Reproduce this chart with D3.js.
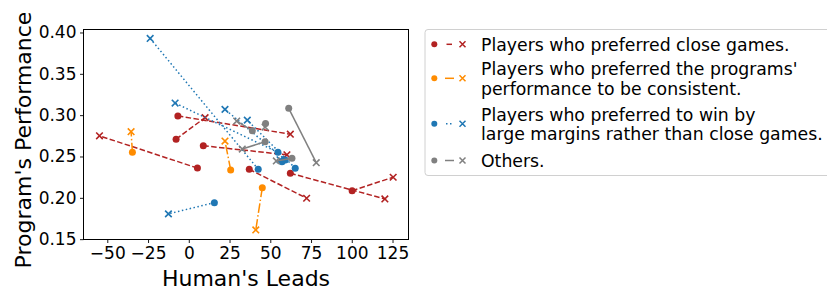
<!DOCTYPE html>
<html>
<head>
<meta charset="utf-8">
<script src="https://cdn.jsdelivr.net/npm/d3@7"></script>
<style>
  body { margin: 0; background: #fff; }
  svg { font-family: "DejaVu Sans", sans-serif; }
</style>
</head>
<body>
<svg id="canvas"></svg>
<script>
// each player: circle = first game, cross = last game (same index)
let closeCircles = [[5.3, 0.236], [-6.7, 0.299], [-7.8, 0.271], [8.9, 0.263], [37.1, 0.2345], [62.3, 0.2297], [100.2, 0.2087]];
let closeCrosses = [[-54.8, 0.275], [62.3, 0.277], [10.0, 0.297], [60.2, 0.252], [72.3, 0.1995], [120.3, 0.1987], [125.4, 0.2249]];

let consistentCircles = [[-34.6, 0.255], [25.7, 0.2337], [45.1, 0.2123]];
let consistentCrosses = [[-35.4, 0.280], [22.2, 0.2687], [41.1, 0.1612]];

let marginCircles = [[42.6, 0.2345], [54.7, 0.255], [59.2, 0.2458], [65.3, 0.2358], [15.7, 0.1942], [57.2, 0.2437]];
let marginCrosses = [[-23.7, 0.3928], [-8.4, 0.3146], [22.2, 0.307], [35.9, 0.294], [-12.5, 0.1806], [56.0, 0.246]];

let otherCircles = [[61.3, 0.3082], [47.1, 0.2899], [39.0, 0.2812], [46.8, 0.2679], [63.3, 0.2478]];
let otherCrosses = [[78.2, 0.2425], [46.8, 0.2856], [29.4, 0.2929], [32.8, 0.259], [53.7, 0.2446]];

let xTicks = [-50, -25, 0, 25, 50, 75, 100, 125];
let yTicks = [0.15, 0.20, 0.25, 0.30, 0.35, 0.40];

let groups = [
  {label: ['Players who preferred close games.'], color: '#b22222', dash: '5.5,2.4', legendLine: [446.5, 452], circles: closeCircles, crosses: closeCrosses},
  {label: ["Players who preferred the programs'", 'performance to be consistent.'], color: '#ff8c00', dash: '9.6,2.4,1.5,2.4', legendLine: [445, 454], circles: consistentCircles, crosses: consistentCrosses},
  {label: ['Players who preferred to win by', 'large margins rather than close games.'], color: '#1f77b4', dash: '1.5,2.5', legendLine: [446, 454], circles: marginCircles, crosses: marginCrosses},
  {label: ['Others.'], color: '#808080', dash: null, legendLine: [445, 454], circles: otherCircles, crosses: otherCrosses}
];

let width = 827;
let height = 293;

let svg = d3.select('#canvas').attr('width', width).attr('height', height);

let xScale = d3.scaleLinear().domain([-64.6, 134.8]).range([83.5, 408.5]);
let yScale = d3.scaleLinear().domain([0.1496, 0.4036]).range([239.5, 29.5]);

let crossPath = (s) => 'M' + (-s) + ',' + (-s) + 'L' + s + ',' + s + 'M' + (-s) + ',' + s + 'L' + s + ',' + (-s);

let drawGroups = () => {
  groups.forEach((g) => {
    let layer = svg.append('g');
    layer.selectAll('line')
      .data(g.circles)
      .enter()
      .append('line')
      .attr('x1', (d) => xScale(d[0]))
      .attr('y1', (d) => yScale(d[1]))
      .attr('x2', (d, i) => xScale(g.crosses[i][0]))
      .attr('y2', (d, i) => yScale(g.crosses[i][1]))
      .attr('stroke', g.color)
      .attr('stroke-width', 1.5)
      .attr('stroke-dasharray', g.dash);
    layer.selectAll('circle')
      .data(g.circles)
      .enter()
      .append('circle')
      .attr('cx', (d) => xScale(d[0]))
      .attr('cy', (d) => yScale(d[1]))
      .attr('r', 3.5)
      .attr('fill', g.color);
    layer.selectAll('path')
      .data(g.crosses)
      .enter()
      .append('path')
      .attr('d', crossPath(3.3))
      .attr('transform', (d) => 'translate(' + xScale(d[0]) + ',' + yScale(d[1]) + ')')
      .attr('stroke', g.color)
      .attr('stroke-width', 1.6)
      .attr('fill', 'none');
  });
}

let drawAxis = () => {
  let xAxis = d3.axisBottom(xScale).tickValues(xTicks).tickSize(3.5).tickPadding(3.5).tickFormat((d) => d < 0 ? '\u2212' + Math.abs(d) : d);
  let yAxis = d3.axisLeft(yScale).tickValues(yTicks).tickSize(3.5).tickPadding(3.5).tickFormat(d3.format('.2f'));
  let gx = svg.append('g').attr('transform', 'translate(0,239.5)').call(xAxis);
  let gy = svg.append('g').attr('transform', 'translate(83.5,0)').call(yAxis);
  [gx, gy].forEach((a) => {
    a.select('.domain').remove();
    a.selectAll('text').attr('font-size', 17).attr('fill', '#000').attr('font-family', 'DejaVu Sans');
    a.selectAll('line').attr('stroke', '#000').attr('stroke-width', 0.9);
  });
  svg.append('rect')
    .attr('x', 83.5).attr('y', 29.5)
    .attr('width', 325).attr('height', 210)
    .attr('fill', 'none').attr('stroke', '#000').attr('stroke-width', 1);

  svg.append('text')
    .attr('x', 246).attr('y', 286)
    .attr('text-anchor', 'middle')
    .attr('font-size', 22)
    .text("Human's Leads");
  svg.append('text')
    .attr('transform', 'translate(31,' + 140 + ') rotate(-90)')
    .attr('text-anchor', 'middle')
    .attr('font-size', 22)
    .text("Program's Performance");
}

let drawLegend = () => {
  let legend = svg.append('g');
  legend.append('rect')
    .attr('x', 425).attr('y', 29.5)
    .attr('width', 410).attr('height', 146)
    .attr('rx', 3)
    .attr('fill', '#fff').attr('stroke', '#d0d0d0').attr('stroke-width', 1);
  let rowsY = [[44.3], [68.3, 88.3], [114.3, 133.3], [160.5]];
  groups.forEach((g, i) => {
    let lines = rowsY[i];
    let cy = d3.mean(lines);
    legend.append('circle').attr('cx', 434.3).attr('cy', cy).attr('r', 3).attr('fill', g.color);
    legend.append('line')
      .attr('x1', g.legendLine[0]).attr('x2', g.legendLine[1]).attr('y1', cy).attr('y2', cy)
      .attr('stroke', g.color).attr('stroke-width', 1.5)
      .attr('stroke-dasharray', g.dash);
    legend.append('path')
      .attr('d', crossPath(3))
      .attr('transform', 'translate(462.5,' + cy + ')')
      .attr('stroke', g.color).attr('stroke-width', 1.5).attr('fill', 'none');
    g.label.forEach((t, j) => {
      legend.append('text')
        .attr('x', 481).attr('y', lines[j])
        .attr('dy', '0.36em')
        .attr('font-size', 17.3)
        .text(t);
    });
  });
}

drawGroups();
drawAxis();
drawLegend();
</script>
</body>
</html>
